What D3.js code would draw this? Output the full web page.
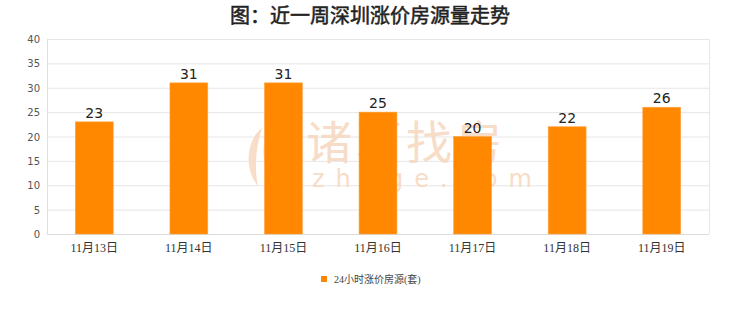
<!DOCTYPE html>
<html><head><meta charset="utf-8">
<script src="https://cdn.jsdelivr.net/npm/d3@7/dist/d3.min.js"></script>
<style>body{margin:0;background:#fff;}svg{display:block;}</style>
</head><body>
<svg id="c" width="740" height="312"></svg>
<script>
const categories = ["11月13日","11月14日","11月15日","11月16日","11月17日","11月18日","11月19日"];
const values = [23,31,31,25,20,22,26];
const yTicks = [0,5,10,15,20,25,30,35,40];
const title = "图：近一周深圳涨价房源量走势";
const seriesName = "24小时涨价房源(套)";

const svg = d3.select("#c");
const m = {l:47, r:709, t:39, b:234};
const x = d3.scaleBand().domain(categories).range([m.l, m.r]).paddingInner(0.6).paddingOuter(0.3);
const y = d3.scaleLinear().domain([0,40]).range([m.b, m.t]);

svg.append("text").attr("x",370).attr("y",23).attr("text-anchor","middle")
  .attr("font-family","'Noto Sans CJK SC',sans-serif").attr("font-weight","normal")
  .attr("stroke","#222").attr("stroke-width",0.5)
  .attr("font-size",20).attr("fill","#222").text(title);

// grid
svg.append("g").selectAll("line").data(yTicks).join("line")
  .attr("x1",m.l).attr("x2",m.r).attr("y1",d=>y(d)+0.5).attr("y2",d=>y(d)+0.5)
  .attr("stroke","#e6e6e6");
svg.append("line").attr("x1",m.r+0.5).attr("x2",m.r+0.5).attr("y1",m.t).attr("y2",m.b).attr("stroke","#e6e6e6");
svg.append("line").attr("x1",m.l+0.5).attr("x2",m.l+0.5).attr("y1",m.t).attr("y2",m.b).attr("stroke","#e0e0e0");
svg.append("line").attr("x1",m.l).attr("x2",m.r).attr("y1",m.b+0.5).attr("y2",m.b+0.5).attr("stroke","#dcdcdc");

// watermark
const wm = svg.append("g").attr("fill","#f7d9c2").attr("opacity",0.9);
wm.append("text").attr("x",306).attr("y",159).attr("font-family","'Noto Sans CJK SC',sans-serif")
  .attr("font-size",46).attr("letter-spacing",4).text("诸葛找房");
wm.append("text").attr("x",312).attr("y",187).attr("font-family","'DejaVu Sans',sans-serif")
  .attr("font-size",24).attr("letter-spacing",11).text("zhuge.com");
wm.append("path").attr("d","M262,128 C246,140 244,170 258,186 C254,168 256,146 262,128 Z M270,126 C260,142 262,166 272,182 C270,164 270,144 270,126 Z M278,130 C274,146 276,164 282,176 C282,160 282,146 278,130 Z");

// y axis labels
svg.append("g").selectAll("text").data(yTicks).join("text")
  .attr("x",40).attr("y",d=>y(d)+4).attr("text-anchor","end")
  .attr("font-family","'DejaVu Sans',sans-serif").attr("font-size",10).attr("fill","#555")
  .text(d=>d);

// bars
svg.append("g").selectAll("rect").data(values).join("rect")
  .attr("x",(d,i)=>x(categories[i])).attr("width",x.bandwidth())
  .attr("y",d=>y(d)).attr("height",d=>m.b-y(d))
  .attr("fill","#ff8800").attr("stroke","#ffa040").attr("stroke-width",0.6);

// value labels
svg.append("g").selectAll("text").data(values).join("text")
  .attr("x",(d,i)=>x(categories[i])+x.bandwidth()/2).attr("y",d=>y(d)-4)
  .attr("text-anchor","middle").attr("font-family","'DejaVu Sans',sans-serif")
  .attr("font-size",14).attr("fill","#222").text(d=>d);

// x labels
svg.append("g").selectAll("text").data(categories).join("text")
  .attr("x",d=>x(d)+x.bandwidth()/2).attr("y",252).attr("text-anchor","middle")
  .attr("font-family","'Liberation Serif','Noto Sans CJK SC',serif").attr("font-size",12).attr("fill","#333")
  .text(d=>d);

// legend
svg.append("rect").attr("x",315).attr("y",268).attr("width",102).attr("height",24).attr("fill","#fff");
svg.append("rect").attr("x",321).attr("y",276).attr("width",6).attr("height",6).attr("fill","#ff8800");
svg.append("text").attr("x",334).attr("y",283).attr("font-family","'Liberation Serif','Noto Sans CJK SC',serif")
  .attr("font-size",10).attr("fill","#444").text(seriesName);
</script>
</body></html>
